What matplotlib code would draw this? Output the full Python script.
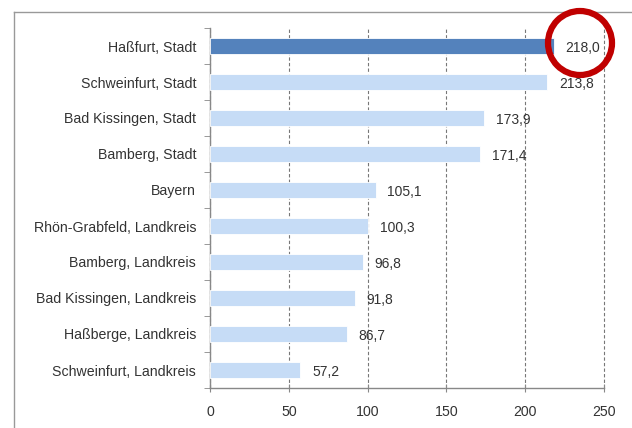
import matplotlib
matplotlib.use("Agg")
import matplotlib.pyplot as plt
from matplotlib.patches import Ellipse
from matplotlib.lines import Line2D
import numpy as np

REGIONS = [
    "Haßfurt, Stadt",
    "Schweinfurt, Stadt",
    "Bad Kissingen, Stadt",
    "Bamberg, Stadt",
    "Bayern",
    "Rhön-Grabfeld, Landkreis",
    "Bamberg, Landkreis",
    "Bad Kissingen, Landkreis",
    "Haßberge, Landkreis",
    "Schweinfurt, Landkreis",
]
VALUES = [218.0, 213.8, 173.9, 171.4, 105.1, 100.3, 96.8, 91.8, 86.7, 57.2]
HIGHLIGHT = "Haßfurt, Stadt"
XTICKS = [0, 50, 100, 150, 200, 250]


def main() -> None:
    plt.rcParams.update({
        "font.family": ["Liberation Sans", "DejaVu Sans"],
        "font.size": 10.2,
    })

    fig = plt.figure(figsize=(6.32, 4.28), dpi=100)
    ax = fig.add_axes([210 / 632, 1 - 388 / 428, 394 / 632, 360 / 428])

    y = np.arange(len(REGIONS))
    colors = ["#5482bc" if r == HIGHLIGHT else "#c6dcf6" for r in REGIONS]
    ax.barh(y, VALUES, height=0.42, color=colors, edgecolor="white", linewidth=0.6, zorder=3)

    for i, v in enumerate(VALUES):
        ax.text(v + 7.5, i + 0.05, f"{v:.1f}".replace(".", ","), ha="left", va="center",
                fontsize=10, color="#333333", zorder=4)

    ax.set_xlim(0, 250)
    ax.set_ylim(len(REGIONS) - 0.5, -0.5)
    ax.set_xticks(XTICKS)
    ax.set_xticklabels([str(t) for t in XTICKS], color="#333333")
    ax.set_yticks(y)
    ax.set_yticklabels(REGIONS, color="#333333")
    ax.set_yticks(np.arange(len(REGIONS) + 1) - 0.5, minor=True)
    ax.tick_params(axis="y", which="major", length=0, pad=10)
    ax.tick_params(axis="y", which="minor", length=4, color="#888888", direction="out")
    ax.tick_params(axis="x", length=6, color="#888888", direction="inout", pad=9)

    ax.grid(axis="x", color="#777777", linestyle=(0, (3, 2)), linewidth=0.8, zorder=0)
    for gl in ax.get_xgridlines():
        gl.set_clip_on(False)
    for s in ["top", "right"]:
        ax.spines[s].set_visible(False)
    for s in ["left", "bottom"]:
        ax.spines[s].set_color("#888888")
        ax.spines[s].set_linewidth(1.0)

    # outer chart frame (left and top edges visible)
    fig.add_artist(Line2D([13.5 / 632, 13.5 / 632], [0, 1 - 12 / 428],
                          transform=fig.transFigure, color="#999999", linewidth=1.0))
    fig.add_artist(Line2D([13.5 / 632, 1], [1 - 12 / 428, 1 - 12 / 428],
                          transform=fig.transFigure, color="#999999", linewidth=1.0))

    # red marker circle around the highlighted value
    fig.add_artist(Ellipse((580 / 632, 1 - 43 / 428), 64 / 632, 64 / 428,
                           transform=fig.transFigure, fill=False,
                           edgecolor="#c00000", linewidth=4.5, zorder=10))

    fig.savefig("out.png", dpi=100)


if __name__ == "__main__":
    main()
